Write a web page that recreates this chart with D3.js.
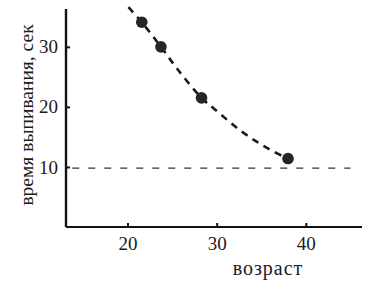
<!DOCTYPE html>
<html>
<head>
<meta charset="utf-8">
<script src="https://cdn.jsdelivr.net/npm/d3@7"></script>
<style>
  body { margin: 0; background: #fff; }
  svg { display: block; }
  text { font-family: "Liberation Serif", "DejaVu Serif", serif; fill: #1a1a1a; }
</style>
</head>
<body>
<svg id="chart" width="369" height="282"></svg>
<script>
// measured points (age, seconds)
var ages = [21.6, 23.75, 28.3, 38.0]
var times = [34.1, 30.0, 21.5, 11.4]

// hand-drawn trend line
var curveAges = [20.1, 21.6, 23.75, 25.7, 28.3, 29.7, 32.9, 35.5, 38.0, 39.2]
var curveTimes = [36.6, 34.1, 30.0, 26.1, 21.5, 19.7, 15.8, 13.3, 11.4, 10.9]

// level line
var levelAges = [13.8, 45.0]
var levelTimes = [9.8, 9.8]

var xTicks = [20, 30, 40]
var yTicks = [10, 20, 30]

var svg = d3.select("#chart")

var x = d3.scaleLinear().domain([13.1, 46.3]).range([66, 362])
var y = d3.scaleLinear().domain([0, 36.3]).range([227, 9])

var line = d3.line()
    .x(function(d) { return x(d[0]) })
    .y(function(d) { return y(d[1]) })

var lineCurve = d3.line()
    .x(function(d) { return x(d[0]) })
    .y(function(d) { return y(d[1]) })
    .curve(d3.curveCatmullRom)

//horizontal dashed level
svg.append("path")
    .datum(d3.zip(levelAges, levelTimes))
    .attr("d", line)
    .attr("fill", "none")
    .attr("stroke", "#333")
    .attr("stroke-width", 1.3)
    .attr("stroke-dasharray", "7,9")

//dashed trend curve
svg.append("path")
    .datum(d3.zip(curveAges, curveTimes))
    .attr("d", lineCurve)
    .attr("fill", "none")
    .attr("stroke", "#1a1a1a")
    .attr("stroke-width", 2.6)
    .attr("stroke-dasharray", "7,6")

svg.selectAll(".pt")
    .data(d3.zip(ages, times))
    .enter()
    .append("circle")
    .attr("class", "pt")
    .attr("cx", function(d) { return x(d[0]) })
    .attr("cy", function(d) { return y(d[1]) })
    .attr("r", 5.8)
    .attr("fill", "#262626")

//axes
var xAxis = d3.axisBottom(x).tickValues(xTicks).tickSize(-4).tickPadding(10)
var yAxis = d3.axisLeft(y).tickValues(yTicks).tickSize(-4).tickPadding(8)

var gx = svg.append("g").attr("transform", "translate(0," + y(0) + ")").call(xAxis)
var gy = svg.append("g").attr("transform", "translate(" + x(13.1) + ",0)").call(yAxis)

gx.select(".domain").attr("d", "M" + x(13.1) + ",0H" + x(46.3)).attr("stroke", "#111").attr("stroke-width", 2)
gy.select(".domain").attr("d", "M0," + y(0) + "V" + y(36.3)).attr("stroke", "#111").attr("stroke-width", 2.4)

svg.selectAll(".tick line").attr("stroke", "#111").attr("stroke-width", 2)
svg.selectAll(".tick text")
    .style("font-family", "Liberation Serif, serif")
    .style("font-size", "19px")
    .attr("fill", "#1a1a1a")

svg.append("text")
    .attr("x", 268)
    .attr("y", 275)
    .attr("text-anchor", "middle")
    .style("font-size", "20px")
    .style("letter-spacing", "1px")
    .text("возраст")

svg.append("text")
    .attr("transform", "translate(33,115) rotate(-90)")
    .attr("text-anchor", "middle")
    .style("font-size", "19.5px")
    .text("время выпивания, сек")
</script>
</body>
</html>
